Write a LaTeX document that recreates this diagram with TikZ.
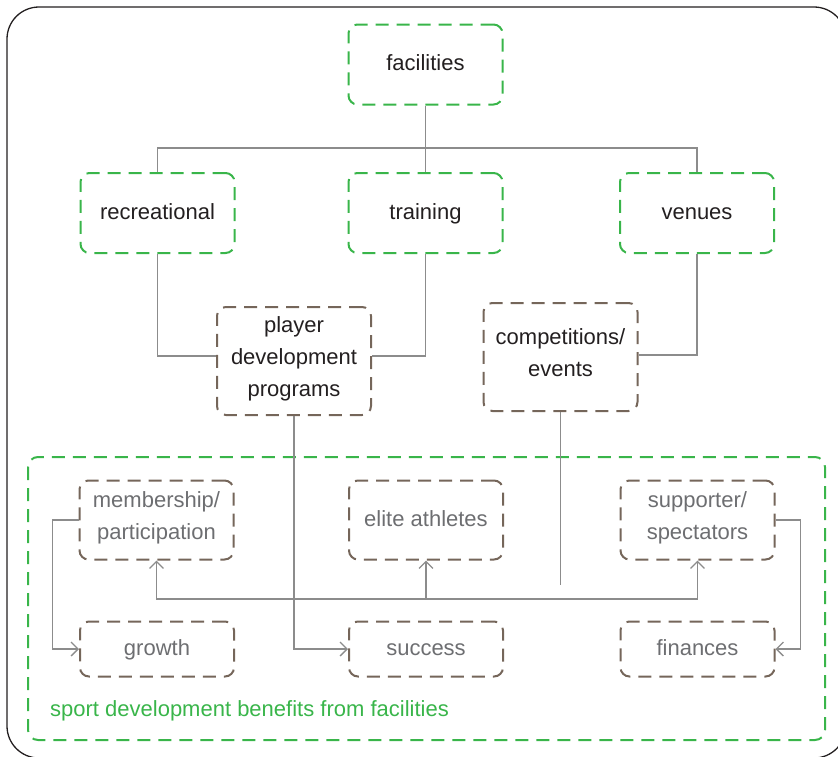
\documentclass[tikz,border=0pt]{standalone}
\usepackage{fontspec}
\setmainfont{Liberation Sans}
\usepackage{xcolor}
\usetikzlibrary{positioning,calc,arrows.meta}
\definecolor{boxgreen}{RGB}{57,181,74}
\definecolor{boxbrown}{RGB}{117,102,90}
\definecolor{linegray}{RGB}{140,140,140}
\definecolor{textdark}{RGB}{35,31,32}
\definecolor{textgray}{RGB}{109,110,113}

\begin{document}
\begin{tikzpicture}[x=1pt,y=1pt,
        box/.style={rounded corners=9pt, line width=2pt, dash pattern=on 13pt off 8pt,
            minimum width=154pt, inner sep=0pt, align=center, font=\fontsize{22}{32}\selectfont,
            execute at begin node=\strut, execute at end node=\strut},
        topbox/.style={box, draw=boxgreen, text=textdark, minimum height=80pt},
        midbox/.style={box, draw=boxbrown, text=textdark, minimum height=108pt},
        lowbox/.style={box, draw=boxbrown, text=textgray},
        conn/.style={draw=linegray, line width=1.3pt},
        >={Straight Barb[length=7pt,width=14pt]}]
        \useasboundingbox (0,0) rectangle (838,-756);
        % frames
        \draw[line width=1.3pt, textdark, rounded corners=32pt] (7,-7) rectangle (846,-758);
        \draw[boxgreen, line width=2pt, dash pattern=on 13pt off 8pt, rounded corners=10pt] (28,-457) rectangle (825,-740);
        % facilities
        \node[topbox] (fac) at (425.5,-64.5) {facilities};
        \node[topbox] (rec) at (157.5,-213) {recreational};
        \node[topbox] (train) at (425.5,-213) {training};
        \node[topbox] (ven) at (697,-213) {venues};
        \node[midbox] (pdp) at (294,-361) {player\\development\\programs};
        \node[midbox] (comp) at (560.5,-357) {competitions/\\events};
        % benefits
        \node[lowbox, minimum height=79pt] (memb) at (156.5,-520) {membership/\\participation};
        \node[lowbox, minimum height=79pt] (elite) at (426,-520) {elite athletes};
        \node[lowbox, minimum height=79pt] (supp) at (697.5,-520) {supporter/\\spectators};
        \node[lowbox, minimum height=55pt] (growth) at (157,-649) {growth};
        \node[lowbox, minimum height=55pt] (succ) at (426,-649) {success};
        \node[lowbox, minimum height=55pt] (fin) at (697.5,-649) {finances};
        \node[anchor=west, inner sep=0pt, text=boxgreen, font=\fontsize{22}{32}\selectfont] (benlabel) at (50,-711) {sport development benefits from facilities};
        % connectors
        \coordinate (split) at (425.5,-148);
        \coordinate (bar) at (426,-599);
        \coordinate (compend) at (560.5,-585);
        \draw[conn] (fac.south) -- (train.north);
        \draw[conn] (rec.north) |- (split) -| (ven.north);
        \draw[conn] (rec.south) |- ([yshift=5pt]pdp.west);
        \draw[conn] (train.south) |- ([yshift=5pt]pdp.east);
        \draw[conn] (ven.south) |- ([yshift=2pt]comp.east);
        \draw[conn] (comp.south) -- (compend);
        \draw[conn,->] (pdp.south) |- (succ.west);
        \draw[conn,<->] (memb.south) |- (bar) -| (supp.south);
        \draw[conn,->] (bar) -- (elite.south);
        \draw[conn,->] (memb.west) -- ++(-26,0) |- (growth.west);
        \draw[conn,->] (supp.east) -- ++(25,0) |- (fin.east);
    \end{tikzpicture}
\end{document}
